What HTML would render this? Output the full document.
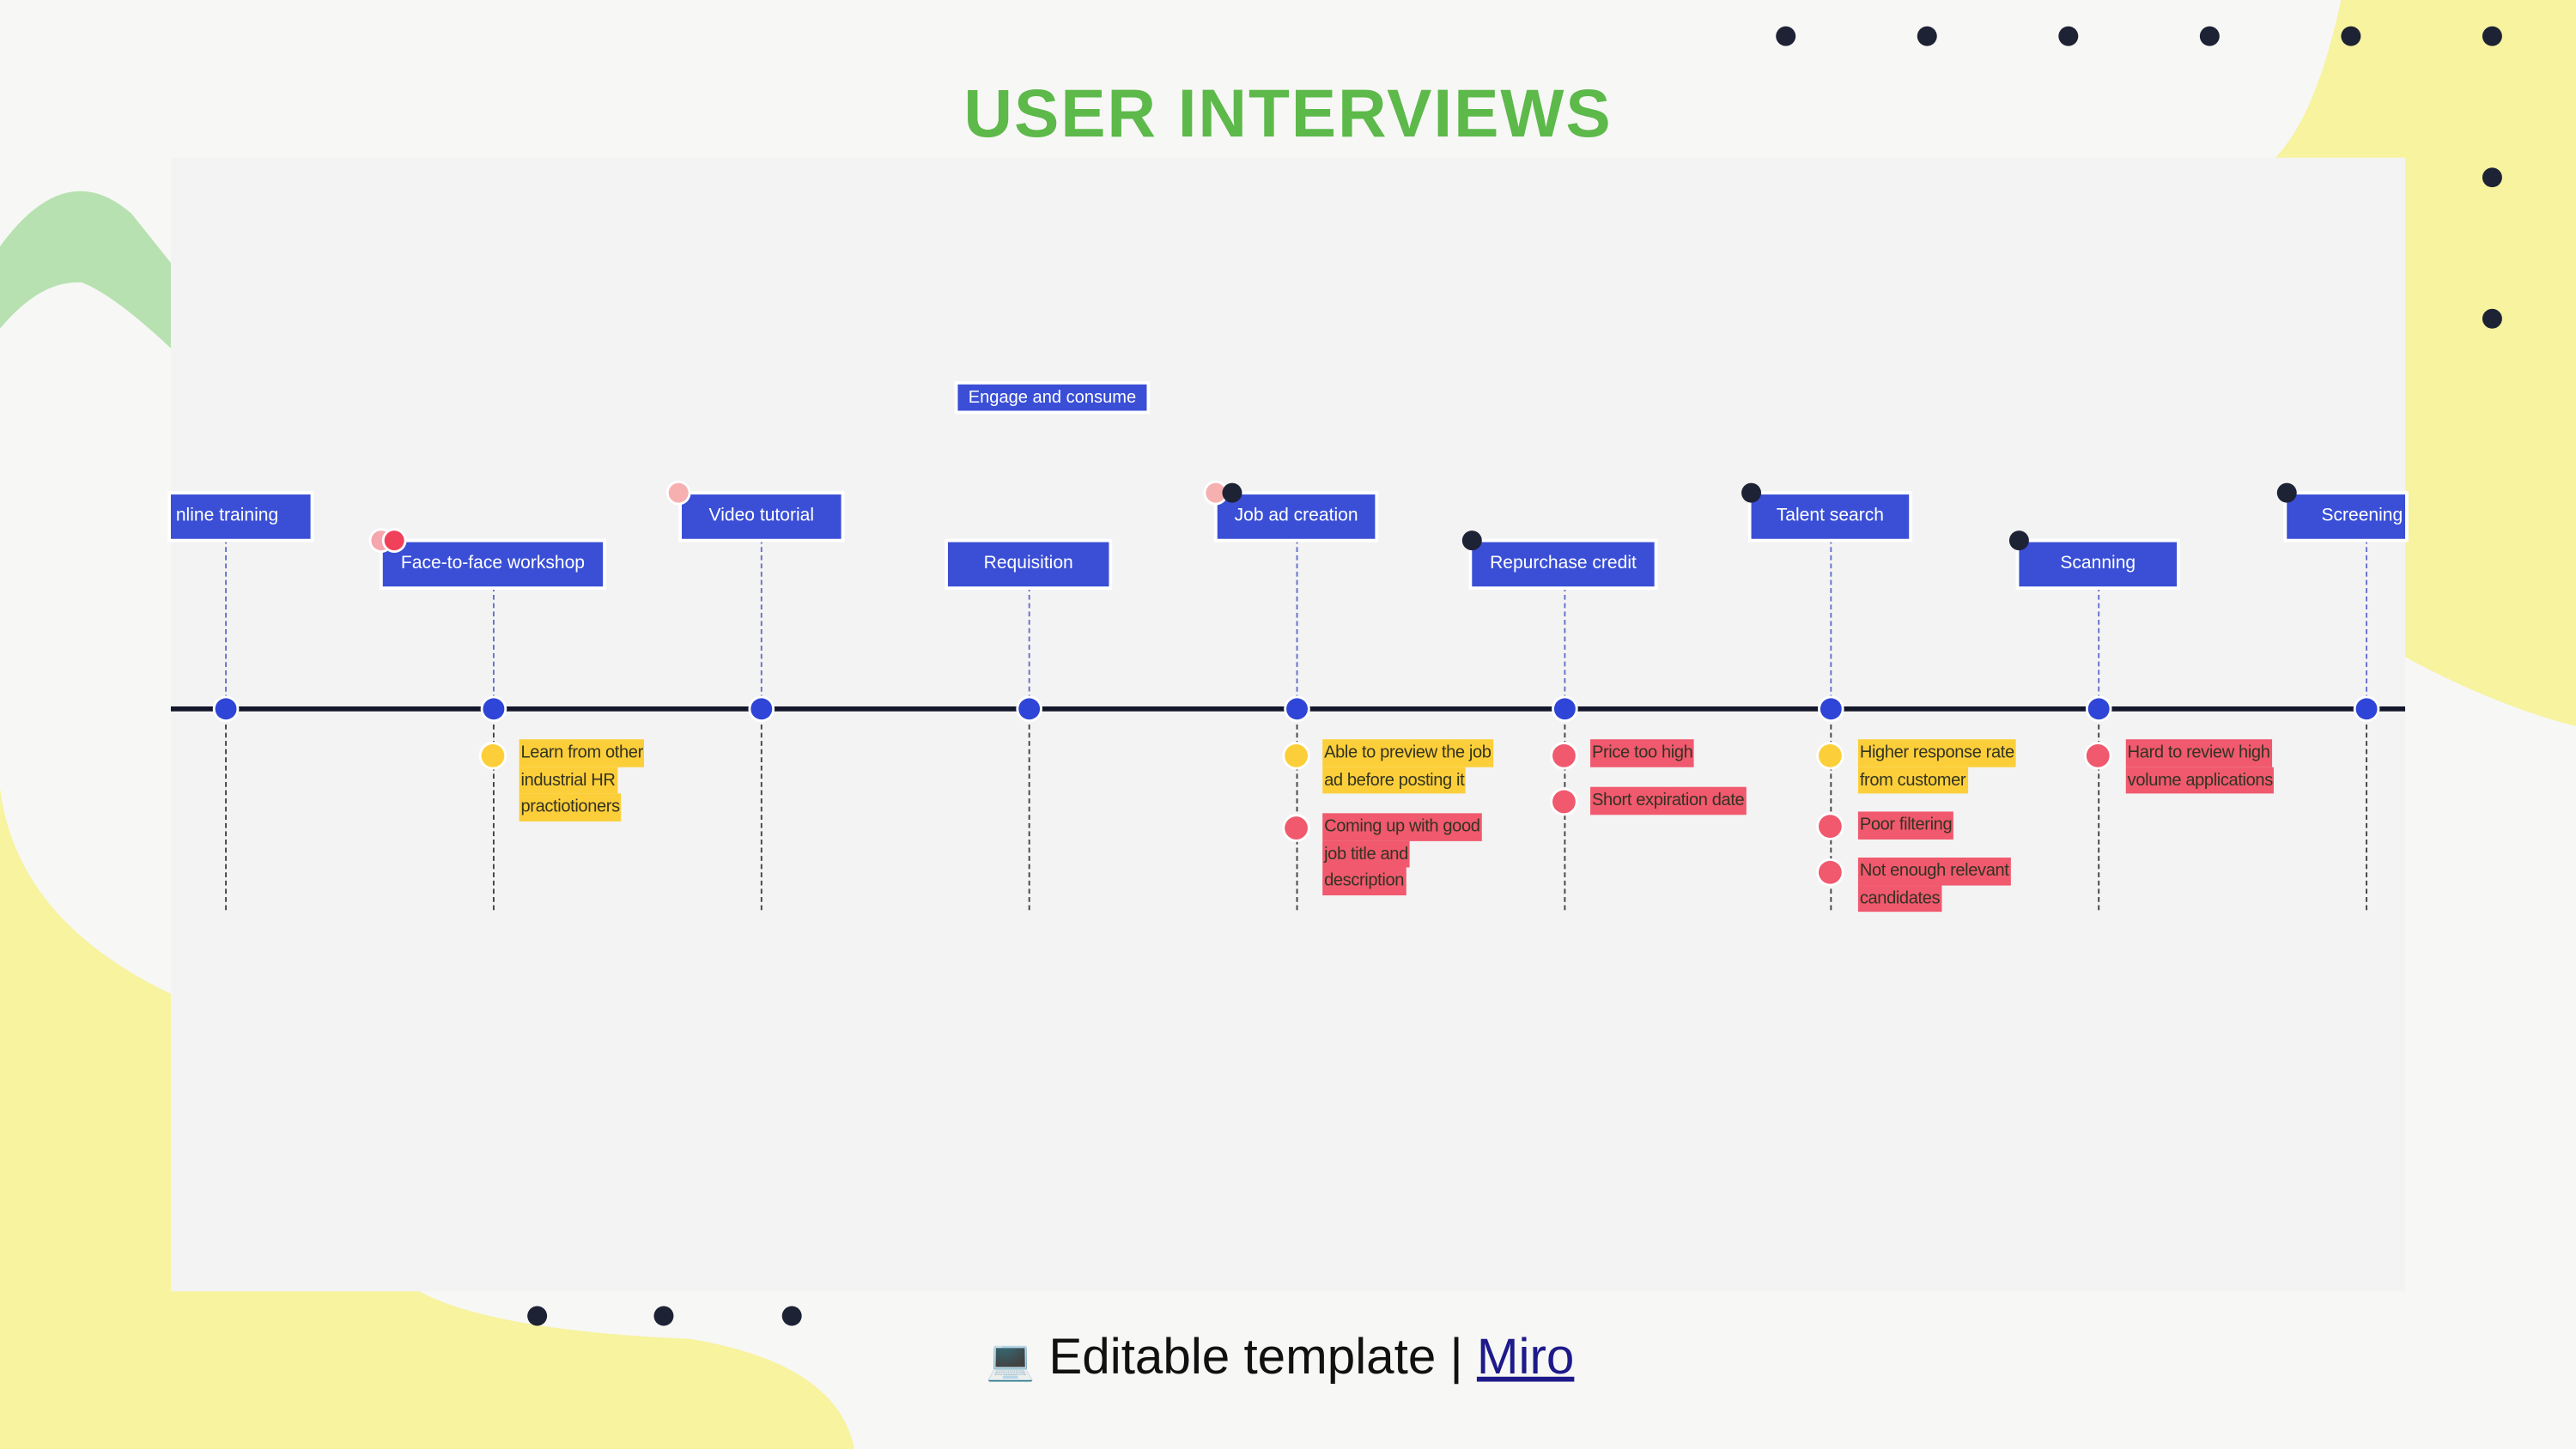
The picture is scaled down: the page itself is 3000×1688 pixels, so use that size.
<!DOCTYPE html>
<html><head><meta charset="utf-8"><style>
html,body{margin:0;padding:0;width:3000px;height:1688px;overflow:hidden;background:#f7f7f5}
#s{position:absolute;left:0;top:0;width:1568px;height:882px;transform:scale(1.91327,1.91383);transform-origin:0 0;font-family:"Liberation Sans",sans-serif}
.a{position:absolute}
.panel{left:104px;top:96px;width:1360px;height:690px;background:#f3f3f3}
.lb{position:absolute;height:27px;background:#3a4fd6;color:#fff;font-size:11px;line-height:27px;text-align:center;white-space:nowrap;overflow:hidden;box-shadow:0 0 0 2px #fff}
.vd{position:absolute;width:0;border-left:1.3px dashed #6670c8}
.vk{position:absolute;width:0;border-left:1.6px dashed #444}
.nd{position:absolute;width:13px;height:13px;border-radius:50%;background:#2f45d8;margin:-6.5px 0 0 -6.5px;box-shadow:0 0 0 1.5px #fff}
.d{position:absolute;width:12px;height:12px;border-radius:50%;margin:-6px 0 0 -6px;box-shadow:0 0 0 1.5px #fff}
.bd{position:absolute;width:12px;height:12px;border-radius:50%;background:#1e2235;margin:-6px 0 0 -6px}
.n{position:absolute;font-size:10.5px;line-height:16.5px;color:#332;white-space:nowrap;letter-spacing:-0.2px}
.n span{display:inline-block;padding:0 1px}
.y span{background:#fccf3a}.r span{background:#f0596e}
</style></head><body><div id="s">
<svg class="a" style="left:0;top:0" width="1568" height="882">
<path d="M1425 0 Q1410 70 1385 96 L1464 96 L1464 400 Q1520 430 1568 442 L1568 0Z" fill="#f7f39e"/>
<path d="M0 480 Q10 560 104 605 L104 786 L255 786 Q300 810 420 815 Q510 830 520 882 L0 882Z" fill="#f7f39e"/>
<path d="M0 150 Q40 95 80 130 L104 160 L104 212 Q70 180 50 172 Q25 170 0 200Z" fill="#b7e1b0"/>
</svg>
<div class="a panel"></div>
<div class="a" style="left:0;width:1568px;top:46px;text-align:center;font-size:41px;font-weight:bold;color:#5cb94a;letter-spacing:1px">USER INTERVIEWS</div>
<div class="bd" style="left:1087px;top:22px"></div><div class="bd" style="left:1173px;top:22px"></div><div class="bd" style="left:1259px;top:22px"></div><div class="bd" style="left:1345px;top:22px"></div><div class="bd" style="left:1431px;top:22px"></div><div class="bd" style="left:1517px;top:22px"></div>
<div class="bd" style="left:1517px;top:108px"></div><div class="bd" style="left:1517px;top:194px"></div>
<div class="bd" style="left:327px;top:801px"></div><div class="bd" style="left:404px;top:801px"></div><div class="bd" style="left:482px;top:801px"></div>

<div class="vd" style="left:137px;top:328px;height:103px"></div>
<div class="vd" style="left:300px;top:357px;height:74px"></div>
<div class="vd" style="left:463px;top:328px;height:103px"></div>
<div class="vd" style="left:626px;top:357px;height:74px"></div>
<div class="vd" style="left:789px;top:328px;height:103px"></div>
<div class="vd" style="left:952px;top:357px;height:74px"></div>
<div class="vd" style="left:1114px;top:328px;height:103px"></div>
<div class="vd" style="left:1277px;top:357px;height:74px"></div>
<div class="vd" style="left:1440px;top:328px;height:103px"></div>
<div class="vk" style="left:137px;top:431px;height:123px"></div>
<div class="vk" style="left:300px;top:431px;height:123px"></div>
<div class="vk" style="left:463px;top:431px;height:123px"></div>
<div class="vk" style="left:626px;top:431px;height:123px"></div>
<div class="vk" style="left:789px;top:431px;height:123px"></div>
<div class="vk" style="left:952px;top:431px;height:123px"></div>
<div class="vk" style="left:1114px;top:431px;height:123px"></div>
<div class="vk" style="left:1277px;top:431px;height:123px"></div>
<div class="vk" style="left:1440px;top:431px;height:123px"></div>
<div class="a" style="left:104px;top:429.5px;width:1360px;height:3px;background:#14172a"></div>
<div class="nd" style="left:137px;top:431px"></div><div class="nd" style="left:300px;top:431px"></div><div class="nd" style="left:463px;top:431px"></div><div class="nd" style="left:626px;top:431px"></div><div class="nd" style="left:789px;top:431px"></div><div class="nd" style="left:952px;top:431px"></div><div class="nd" style="left:1114px;top:431px"></div><div class="nd" style="left:1277px;top:431px"></div><div class="nd" style="left:1440px;top:431px"></div>

<div class="lb" style="left:104px;top:301px;width:85px;text-align:left">&nbsp;nline training</div>
<div class="lb" style="left:415px;top:301px;width:97px">Video tutorial</div>
<div class="lb" style="left:741px;top:301px;width:96px">Job ad creation</div>
<div class="lb" style="left:1066px;top:301px;width:96px">Talent search</div>
<div class="lb" style="left:1392px;top:301px;width:72px;text-align:left;text-indent:21px">Screening</div>
<div class="lb" style="left:233px;top:330px;width:134px">Face-to-face workshop</div>
<div class="lb" style="left:577px;top:330px;width:98px">Requisition</div>
<div class="lb" style="left:896px;top:330px;width:111px">Repurchase credit</div>
<div class="lb" style="left:1229px;top:330px;width:96px">Scanning</div>
<div class="lb" style="left:583px;top:234px;width:115px;height:16px;line-height:16px;font-size:10.5px">Engage and consume</div>

<div class="d" style="left:232px;top:329px;background:#f6a6ad"></div>
<div class="d" style="left:240px;top:329px;background:#f0405a"></div>
<div class="d" style="left:413px;top:300px;background:#f6b0b0"></div>
<div class="d" style="left:740px;top:300px;background:#f6b0b0"></div>
<div class="bd" style="left:750px;top:300px"></div>
<div class="bd" style="left:896px;top:329px"></div>
<div class="bd" style="left:1066px;top:300px"></div>
<div class="bd" style="left:1229px;top:329px"></div>
<div class="bd" style="left:1392px;top:300px"></div>

<div class="d" style="left:300px;top:460px;background:#fccf3a;width:14px;height:14px;margin:-7px 0 0 -7px"></div>
<div class="d" style="left:789px;top:460px;background:#fccf3a;width:14px;height:14px;margin:-7px 0 0 -7px"></div>
<div class="d" style="left:789px;top:504px;background:#f0596e;width:14px;height:14px;margin:-7px 0 0 -7px"></div>
<div class="d" style="left:952px;top:460px;background:#f0596e;width:14px;height:14px;margin:-7px 0 0 -7px"></div>
<div class="d" style="left:952px;top:488px;background:#f0596e;width:14px;height:14px;margin:-7px 0 0 -7px"></div>
<div class="d" style="left:1114px;top:460px;background:#fccf3a;width:14px;height:14px;margin:-7px 0 0 -7px"></div>
<div class="d" style="left:1114px;top:503px;background:#f0596e;width:14px;height:14px;margin:-7px 0 0 -7px"></div>
<div class="d" style="left:1114px;top:531px;background:#f0596e;width:14px;height:14px;margin:-7px 0 0 -7px"></div>
<div class="d" style="left:1277px;top:460px;background:#f0596e;width:14px;height:14px;margin:-7px 0 0 -7px"></div>

<div class="n y" style="left:316px;top:450px"><span>Learn from other</span><br><span>industrial HR</span><br><span>practiotioners</span></div>
<div class="n y" style="left:805px;top:450px"><span>Able to preview the job</span><br><span>ad before posting it</span></div>
<div class="n r" style="left:805px;top:495px"><span>Coming up with good</span><br><span>job title and</span><br><span>description</span></div>
<div class="n r" style="left:968px;top:450px"><span>Price too high</span></div>
<div class="n r" style="left:968px;top:479px"><span>Short expiration date</span></div>
<div class="n y" style="left:1131px;top:450px"><span>Higher response rate</span><br><span>from customer</span></div>
<div class="n r" style="left:1131px;top:494px"><span>Poor filtering</span></div>
<div class="n r" style="left:1131px;top:522px"><span>Not enough relevant</span><br><span>candidates</span></div>
<div class="n r" style="left:1294px;top:450px"><span>Hard to review high</span><br><span>volume applications</span></div>

<div class="a" style="left:600px;top:808px;font-size:30.5px;line-height:36px;color:#111;white-space:nowrap"><span style="font-size:24px">💻</span> Editable template | <span style="color:#1d1a8a;text-decoration:underline">Miro</span></div>
</div></body></html>
